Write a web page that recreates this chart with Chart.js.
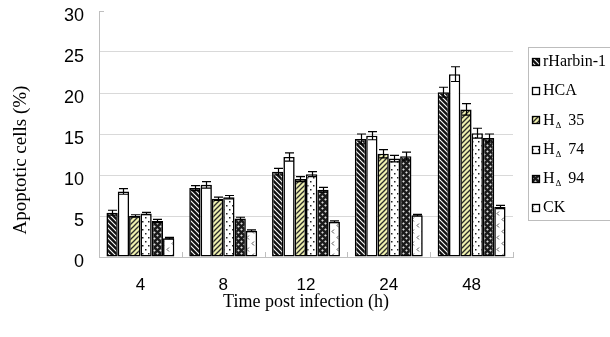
<!DOCTYPE html>
<html><head><meta charset="utf-8">
<script src="https://cdn.jsdelivr.net/npm/chart.js@4/dist/chart.umd.min.js"></script>
<style>html,body{margin:0;padding:0;background:#fff;}#wrap{width:610px;height:337px;position:relative;}</style>
</head><body><div id="wrap"><canvas id="c" width="610" height="337"></canvas></div>
<script>
// ---- data ----
const categories = ['4', '8', '12', '24', '48'];
const seriesNames = ['rHarbin-1', 'HCA', 'HΔ 35', 'HΔ 74', 'HΔ 94', 'CK'];
const rHarbin = [5.4, 8.4, 10.4, 14.4, 20.1];
const hca     = [8.0, 8.8, 12.2, 14.8, 22.3];
const h35     = [5.0, 7.1, 9.5, 12.6, 18.0];
const h74     = [5.3, 7.3, 10.1, 12.0, 15.1];
const h94     = [4.4, 4.7, 8.2, 12.3, 14.5];
const ck      = [2.3, 3.2, 4.3, 5.1, 6.1];
const errRHarbin = [0.3, 0.3, 0.4, 0.6, 0.6];
const errHca     = [0.35, 0.4, 0.5, 0.5, 0.9];
const errH35     = [0.15, 0.2, 0.3, 0.5, 0.7];
const errH74     = [0.15, 0.2, 0.3, 0.4, 0.6];
const errH94     = [0.2, 0.15, 0.3, 0.5, 0.5];
const errCk      = [0.1, 0.1, 0.1, 0.1, 0.2];
const yTickValues = [0, 5, 10, 15, 20, 25, 30];
const xTitle = 'Time post infection (h)';
const yTitle = 'Apoptotic cells (%)';

// ---- patterns ----
const canvas = document.getElementById('c');
const mainCtx = canvas.getContext('2d');
function mkPattern(w, h, draw) {
  const t = document.createElement('canvas');
  t.width = w; t.height = h;
  const g = t.getContext('2d');
  draw(g, w, h);
  return mainCtx.createPattern(t, 'repeat');
}
const patRHarbin = mkPattern(5, 5, (g, w, h) => {
  g.fillStyle = '#111'; g.fillRect(0, 0, w, h);
  g.strokeStyle = '#fff'; g.lineWidth = 1.1;
  for (let k = -1; k <= 1; k++) { g.beginPath(); g.moveTo(-1, k * 5 - 1); g.lineTo(w + 1, k * 5 + h + 1); g.stroke(); }
});
const patHca = '#ffffff';
const patH35 = mkPattern(5, 5, (g, w, h) => {
  g.fillStyle = '#eef0ae'; g.fillRect(0, 0, w, h);
  g.strokeStyle = '#2a2a2a'; g.lineWidth = 1.3;
  for (let k = -1; k <= 1; k++) { g.beginPath(); g.moveTo(-1, k * 5 + h + 1); g.lineTo(w + 1, k * 5 - 1); g.stroke(); }
});
const patH74 = mkPattern(6, 8, (g, w, h) => {
  g.fillStyle = '#fff'; g.fillRect(0, 0, w, h);
  g.fillStyle = '#222';
  g.fillRect(1, 1, 1.5, 1.5); g.fillRect(4, 5, 1.5, 1.5);
});
const patH94 = mkPattern(6, 6, (g, w, h) => {
  g.fillStyle = '#1a1a1a'; g.fillRect(0, 0, w, h);
  g.fillStyle = '#dcdcdc';
  const dia = (cx, cy) => { g.beginPath(); g.moveTo(cx, cy - 1.3); g.lineTo(cx + 1.3, cy); g.lineTo(cx, cy + 1.3); g.lineTo(cx - 1.3, cy); g.closePath(); g.fill(); };
  dia(1.5, 1.5); dia(4.5, 4.5);
});
const patCk = mkPattern(10, 12, (g, w, h) => {
  g.fillStyle = '#fff'; g.fillRect(0, 0, w, h);
  g.strokeStyle = '#555'; g.lineWidth = 1;
  g.beginPath(); g.moveTo(4, 1.5); g.lineTo(2, 3.5); g.lineTo(4, 5.5); g.stroke();
  g.beginPath(); g.moveTo(9, 7.5); g.lineTo(7, 9.5); g.lineTo(9, 11.5); g.stroke();
});

const values = [rHarbin, hca, h35, h74, h94, ck];
const errors = [errRHarbin, errHca, errH35, errH74, errH94, errCk];
const fills = [patRHarbin, patHca, patH35, patH74, patH94, patCk];

const datasets = seriesNames.map((name, i) => ({
  label: name,
  data: values[i],
  errors: errors[i],
  backgroundColor: fills[i],
  borderColor: '#000',
  borderWidth: 1.6,
  borderSkipped: false,
  categoryPercentage: 0.82,
  barPercentage: 1.0
}));

const decor = {
  id: 'decor',
  afterDatasetsDraw(chart) {
    const ctx = chart.ctx, y = chart.scales.y;
    ctx.save();
    ctx.strokeStyle = '#000'; ctx.lineWidth = 1.2;
    chart.data.datasets.forEach((ds, di) => {
      const meta = chart.getDatasetMeta(di);
      meta.data.forEach((bar, j) => {
        const v = ds.data[j], e = ds.errors[j];
        const x = Math.round(bar.x) + 0.5;
        const yt = y.getPixelForValue(v + e), yb = y.getPixelForValue(v - e);
        const hw = 4.5;
        ctx.beginPath();
        ctx.moveTo(x, yt); ctx.lineTo(x, yb);
        ctx.moveTo(x - hw, yt); ctx.lineTo(x + hw, yt);
        ctx.moveTo(x - hw, yb); ctx.lineTo(x + hw, yb);
        ctx.stroke();
      });
    });
    ctx.restore();
  },
  afterDraw(chart) {
    const ctx = chart.ctx, ca = chart.chartArea, ys = chart.scales.y;
    ctx.save();
    // category boundary ticks (inside plot)
    ctx.strokeStyle = '#bfbfbf'; ctx.lineWidth = 1;
    const n = categories.length, cw = (ca.right - ca.left) / n;
    for (let i = 1; i <= n; i++) {
      const x = Math.round(ca.left + i * cw) + 0.5;
      ctx.beginPath(); ctx.moveTo(x, ca.bottom); ctx.lineTo(x, ca.bottom - 5); ctx.stroke();
    }
    // top tick at 30
    const yTop = Math.round(ys.getPixelForValue(30)) + 0.5;
    ctx.beginPath(); ctx.moveTo(ca.left, yTop); ctx.lineTo(ca.left + 5, yTop); ctx.stroke();
    // y title
    ctx.fillStyle = '#000';
    ctx.font = '19px "Liberation Serif", "Times New Roman", serif';
    ctx.textAlign = 'center'; ctx.textBaseline = 'middle';
    ctx.translate(21, 160); ctx.rotate(-Math.PI / 2);
    ctx.fillText(yTitle, 0, 0);
    ctx.restore();
    // legend
    ctx.save();
    ctx.strokeStyle = '#bdbdbd'; ctx.lineWidth = 1;
    ctx.strokeRect(528.5, 47.5, 85, 173);
    chart.data.datasets.forEach((ds, i) => {
      const cy = 62 + i * 29.2;
      ctx.fillStyle = ds.backgroundColor;
      ctx.fillRect(532, Math.round(cy) - 4, 8, 8);
      ctx.strokeStyle = '#000'; ctx.lineWidth = 1.3;
      ctx.strokeRect(532.5, Math.round(cy) - 3.5, 7, 7);
      ctx.fillStyle = '#000'; ctx.textBaseline = 'middle'; ctx.textAlign = 'left';
      const big = '16px "Liberation Serif", "Times New Roman", serif';
      const small = '9px "Liberation Serif", "DejaVu Sans", serif';
      const lbl = ds.label;
      let x = 543;
      if (lbl.indexOf('Δ') >= 0) {
        const parts = lbl.split('Δ');
        ctx.font = big; ctx.fillText(parts[0], x, cy); x += ctx.measureText(parts[0]).width + 1;
        ctx.font = small; ctx.fillText('Δ', x, cy + 5); x += ctx.measureText('Δ').width;
        ctx.font = big; ctx.fillText(parts[1], x + 3, cy);
      } else {
        ctx.font = big; ctx.fillText(lbl, x, cy);
      }
    });
    ctx.restore();
  }
};

new Chart(canvas, {
  type: 'bar',
  data: { labels: categories, datasets },
  options: {
    responsive: false,
    animation: false,
    devicePixelRatio: 1,
    layout: { padding: { left: 0, right: 97, top: 11, bottom: 0 } },
    plugins: { legend: { display: false }, tooltip: { enabled: false } },
    scales: {
      x: {
        offset: true,
        grid: { display: false },
        border: { display: true, color: '#bfbfbf', width: 1 },
        ticks: { color: '#000', font: { family: '"Liberation Sans", Arial, sans-serif', size: 17 }, padding: 10, maxRotation: 0 },
        title: { display: true, text: xTitle, color: '#000', font: { family: '"Liberation Serif", "Times New Roman", serif', size: 18 }, padding: { top: 0, bottom: 24 } },
        afterFit(s) { s.height = 80; s.paddingLeft = 0; s.paddingRight = 0; }
      },
      y: {
        min: 0, max: 30,
        afterBuildTicks(s) { s.ticks = yTickValues.map(v => ({ value: v })); },
        grid: { color: (c) => (c.tick && c.tick.value === 30) ? 'rgba(0,0,0,0)' : '#d9d9d9', drawTicks: false, lineWidth: 1 },
        border: { display: true, color: '#bfbfbf', width: 1 },
        ticks: { color: '#000', font: { family: '"Liberation Sans", Arial, sans-serif', size: 18 }, padding: 15, labelOffset: 5 },
        afterFit(s) { s.width = 99; s.paddingTop = 0; s.paddingBottom = 0; }
      }
    }
  },
  plugins: [decor]
});
</script>
</body></html>
